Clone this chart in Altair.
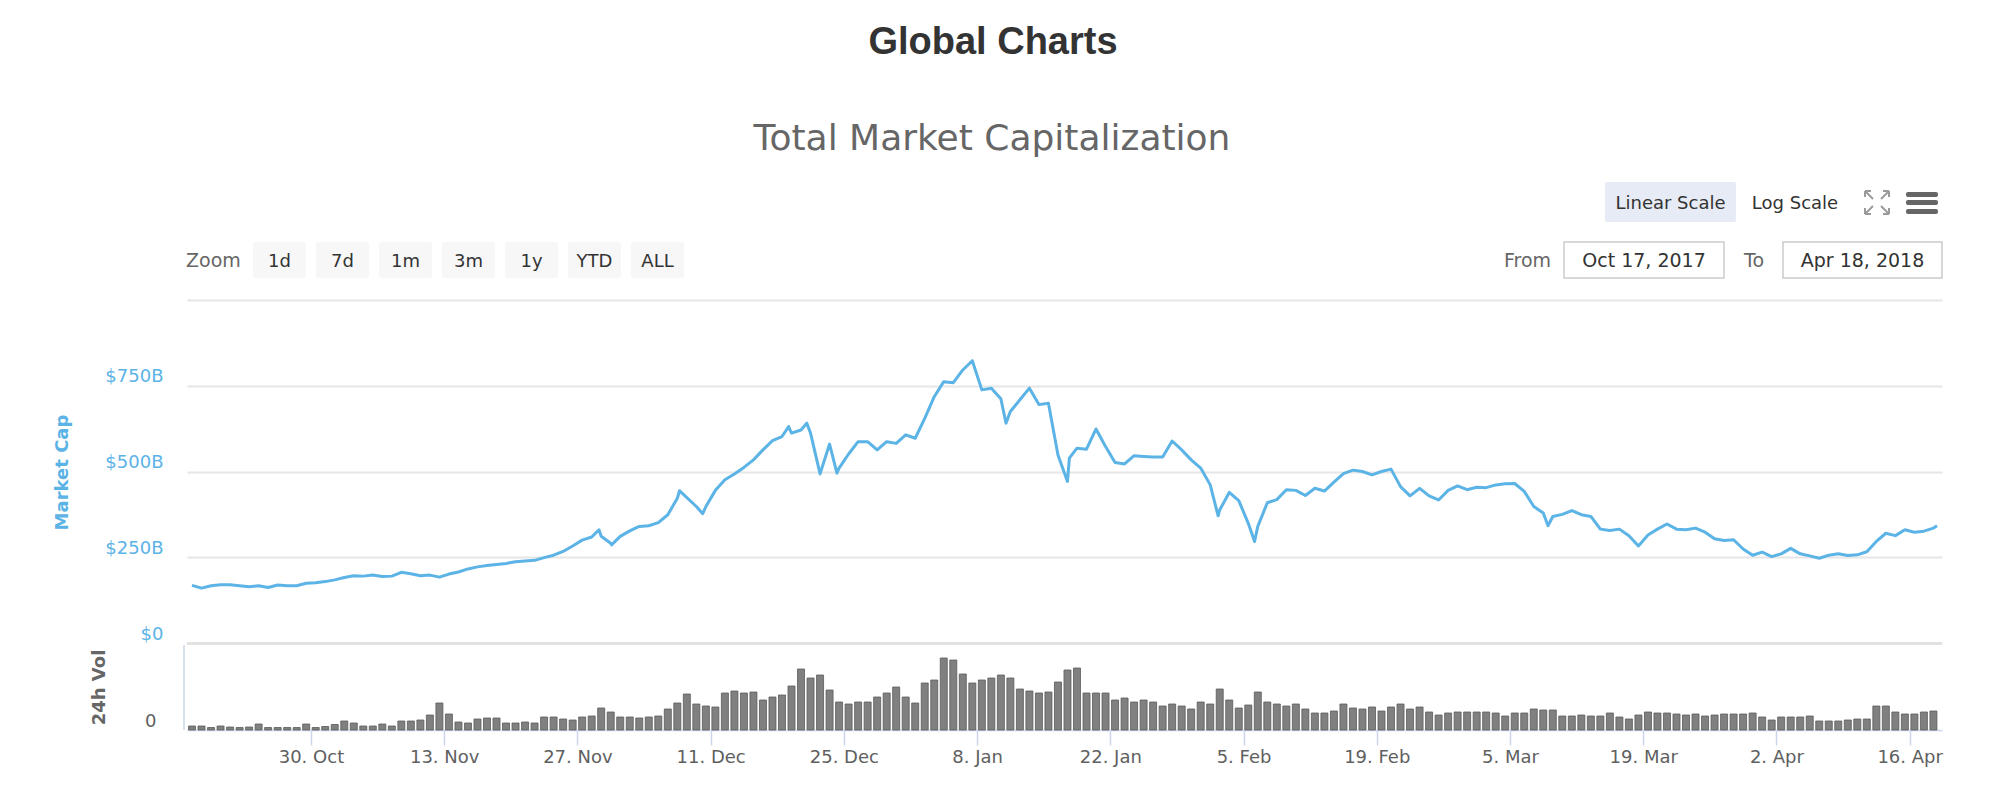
import altair as alt
import pandas as pd

# ---------------- data ----------------
TITLE = "Global Charts"
SUBTITLE = "Total Market Capitalization"
start_day = "2017-10-17"

# total market cap, $B, one reading per day at 12:00 UTC from 17 Oct 2017
market_cap_b = [168, 160, 167, 170, 170, 167, 164, 167, 162, 169,
                167, 167, 174, 176, 179, 184, 191, 196, 195, 198,
                194, 195, 206, 202, 196, 198, 192, 201, 207, 216,
                222, 226, 229, 232, 237, 239, 241, 249, 256, 267,
                283, 300, 309, 311, 291, 311, 327, 340, 342, 351,
                374, 422, 424, 398, 398, 445, 476, 493, 512, 534,
                563, 590, 602, 612, 621, 612, 493, 580, 510, 551,
                587, 587, 563, 587, 582, 607, 597, 655, 718, 762,
                759, 796, 823, 738, 743, 712, 675, 709, 743, 695,
                699, 548, 471, 568, 565, 624, 573, 526, 522, 546,
                544, 542, 542, 589, 563, 534, 510, 461, 388, 439,
                415, 349, 340, 409, 418, 447, 445, 430, 451, 443,
                469, 494, 504, 500, 490, 500, 507, 456, 429, 451,
                429, 417, 445, 458, 447, 454, 453, 461, 464, 465,
                442, 398, 379, 369, 375, 386, 374, 369, 332, 328,
                332, 313, 283, 315, 332, 347, 332, 330, 335, 323,
                304, 299, 301, 274, 256, 265, 252, 260, 276, 260,
                254, 247, 256, 260, 255, 257, 266, 296, 320, 313,
                330, 323, 326, 335]

# extra readings at sharp peaks / dips (days after 17 Oct 00:00 UTC)
extra_day_offsets = [43.27, 44.59, 51.73, 54.17, 63.2, 65.1, 68.27, 86.04,
                     92.7, 108.33, 112.16, 143.0, 183.875]
extra_caps_b = [330, 286, 444, 377, 631, 641, 495, 641,
                539, 371, 296, 342, 342]

# 24h volume, $B, one bar per day
volume_b = [4, 4, 2.5, 4, 3, 2.5, 3, 6, 2.5, 2.5,
            2.5, 2.5, 6, 2.5, 3.5, 5.5, 9, 7, 4, 4,
            6, 4, 9, 9, 10, 15, 27, 16, 8, 7,
            11, 12, 12, 7, 7, 8, 7, 13, 13, 11,
            10, 13, 14, 22, 18, 13, 13, 12, 13, 14,
            21, 27, 36, 26, 24, 23, 37, 39, 37, 38,
            30, 33, 35, 44, 61, 52, 55, 40, 28, 26,
            28, 28, 33, 37, 43, 33, 27, 47, 50, 72,
            70, 56, 47, 50, 52, 55, 52, 41, 39, 37,
            38, 48, 60, 62, 37, 37, 37, 30, 32, 28,
            30, 28, 24, 26, 24, 21, 28, 26, 41, 30,
            22, 25, 38, 28, 26, 24, 26, 21, 17, 17,
            19, 26, 22, 21, 23, 19, 23, 26, 21, 23,
            18, 15, 17, 18, 18, 18, 18, 17, 14, 17,
            17, 21, 20, 20, 14, 14, 15, 14, 14, 17,
            13, 11, 15, 18, 17, 17, 16, 15, 16, 14,
            15, 16, 16, 16, 17, 13, 10, 13, 13, 13,
            14, 9, 9, 9, 10, 11, 11, 24, 24, 18,
            16, 16, 18, 19]

tick_dates = [(2017, 10, 30), (2017, 11, 13), (2017, 11, 27), (2017, 12, 11),
              (2017, 12, 25), (2018, 1, 8), (2018, 1, 22), (2018, 2, 5),
              (2018, 2, 19), (2018, 3, 5), (2018, 3, 19), (2018, 4, 2),
              (2018, 4, 16)]
y_ticks = [0, 250, 500, 750, 1000]
zoom_labels = ["1d", "7d", "1m", "3m", "1y", "YTD", "ALL"]
scale_labels = ["Linear Scale", "Log Scale"]
from_label, to_label = "From", "To"
from_date, to_date = "Oct 17, 2017", "Apr 18, 2018"

# ---------------- tables ----------------
base = pd.Timestamp(start_day, tz="UTC")


def stamp(d):
    return (base + pd.Timedelta(days=d)).strftime("%Y-%m-%dT%H:%M:%SZ")


line_df = pd.DataFrame({
    "date": [stamp(0.5 + k) for k in range(len(market_cap_b))] + [stamp(d) for d in extra_day_offsets],
    "cap": market_cap_b + extra_caps_b,
}).sort_values("date")
vol_df = pd.DataFrame({
    "date": [stamp(0.5 + k) for k in range(len(volume_b))],
    "vol": volume_b,
})

# ---------------- styling ----------------
FONT = "DejaVu Sans"
BLUE = "#5bb3e6"
AXIS_LINE = "#ccd6eb"
GREY_TXT = "#606060"

xscale = alt.Scale(
    type="utc", nice=False,
    domain=[alt.DateTime(year=2017, month=10, date=17, hours=12, utc=True),
            alt.DateTime(year=2018, month=4, date=18, hours=21, utc=True)])

xaxis = alt.Axis(
    values=[alt.DateTime(year=y, month=m, date=d, utc=True) for (y, m, d) in tick_dates],
    format="%-d. %b", labelFont=FONT, labelFontSize=18, labelColor=GREY_TXT,
    labelPadding=3, labelFlush=False, labelOverlap=False,
    tickSize=15, tickColor=AXIS_LINE, tickWidth=1.5,
    domainColor=AXIS_LINE, domainWidth=1.5, grid=False, title=None)

yaxis = alt.Axis(
    values=y_ticks, orient="left",
    labelExpr="datum.value >= 1000 ? '' : (datum.value == 0 ? '$0' : '$' + datum.value + 'B')",
    grid=True, gridColor="#e6e6e6", gridWidth=2, domain=False, ticks=False, tickSize=0,
    labelPadding=24, labelFont=FONT, labelFontSize=18, labelColor=BLUE,
    labelBaseline="bottom", labelFlush=False,
    title="Market Cap", titleFont=FONT, titleFontSize=18, titleFontWeight="bold",
    titleColor=BLUE, titleAngle=270, titleX=-125, titleY=172,
    titleAlign="center", titleBaseline="middle")

vaxis = alt.Axis(
    values=[0], orient="left", grid=False, domain=False, ticks=False, tickSize=0,
    labelPadding=31, labelFont=FONT, labelFontSize=18, labelColor=GREY_TXT,
    labelBaseline="bottom", labelFlush=False,
    title="24h Vol", titleFont=FONT, titleFontSize=18, titleFontWeight="bold",
    titleColor="#666666", titleAngle=270, titleX=-88, titleY=387,
    titleAlign="center", titleBaseline="middle")

W, H = 1755, 430

bars = alt.Chart(vol_df).mark_bar(width=7, fill="#808080", stroke="#5a5a5a", strokeWidth=0.8).encode(
    x=alt.X("date:T", scale=xscale, axis=xaxis),
    y=alt.Y("vol:Q", scale=alt.Scale(domain=[0, H], nice=False, zero=True), axis=vaxis),
)

line = alt.Chart(line_df).mark_line(color=BLUE, strokeWidth=3, strokeJoin="round").encode(
    x=alt.X("date:T", scale=xscale, axis=xaxis),
    y=alt.Y("cap:Q", scale=alt.Scale(domain=[-253.6, 1000], nice=False, zero=False), axis=yaxis),
)

zero_rule = alt.Chart(pd.DataFrame({"a": [0]})).mark_rule(color="#e2e2e2", strokeWidth=3).encode(
    x=alt.value(0), x2=alt.value(W), y=alt.value(343.5))
vol_left = alt.Chart(pd.DataFrame({"a": [0]})).mark_rule(color=AXIS_LINE, strokeWidth=1.5).encode(
    x=alt.value(-3), y=alt.value(345), y2=alt.value(H))


def label(text, x, y, size=18, color="#333333", align="center", weight="normal", font=FONT):
    return alt.Chart(pd.DataFrame({"t": [text]})).mark_text(
        font=font, fontSize=size, color=color, align=align, baseline="alphabetic",
        fontWeight=weight).encode(text="t:N", x=alt.value(x), y=alt.value(y))


def box(x0, x1, y0, y1, fill, stroke=None, radius=2):
    kw = dict(fill=fill, cornerRadius=radius)
    if stroke:
        kw.update(stroke=stroke, strokeWidth=1.5)
    return alt.Chart(pd.DataFrame({"a": [0]})).mark_rect(**kw).encode(
        x=alt.value(x0), x2=alt.value(x1), y=alt.value(y0), y2=alt.value(y1))


# zoom buttons
btn_df = pd.DataFrame({"label": zoom_labels})
btn_df["x0"] = [66 + 63 * i for i in range(len(zoom_labels))]
btn_df["x1"] = btn_df["x0"] + 53
btn_df["xc"] = btn_df["x0"] + 26.5
btn_rects = alt.Chart(btn_df).mark_rect(fill="#f7f7f7", cornerRadius=2).encode(
    x=alt.X("x0:Q", scale=None), x2="x1:Q", y=alt.value(-58), y2=alt.value(-22))
btn_text = alt.Chart(btn_df).mark_text(font=FONT, fontSize=18, color="#333333", baseline="alphabetic").encode(
    x=alt.X("xc:Q", scale=None), y=alt.value(-33), text="label:N")

# fullscreen icon segments
icon_df = pd.DataFrame({
    "x": [1678, 1702, 1678, 1702, 1678, 1678, 1702, 1702, 1678, 1678, 1702, 1702],
    "y": [-109, -109, -86, -86, -109, -109, -109, -109, -86, -86, -86, -86],
    "x2": [1686, 1694, 1686, 1694, 1684, 1678, 1696, 1702, 1684, 1678, 1696, 1702],
    "y2": [-101, -101, -94, -94, -109, -103, -109, -103, -86, -92, -86, -92],
})
icon = alt.Chart(icon_df).mark_rule(color="#9a9a9a", strokeWidth=2).encode(
    x=alt.X("x:Q", scale=None), y=alt.Y("y:Q", scale=None), x2="x2:Q", y2="y2:Q")

hamburger = [box(1719, 1751, y0, y0 + 5, "#666666", radius=2) for y0 in (-108, -100, -91)]

header = [
    label(TITLE, 806, -246, size=38, color="#333333", weight="bold", font="Liberation Sans"),
    label(SUBTITLE, 805, -150, size=36, color="#666666"),
    box(1418, 1549, -118, -78, "#e6ebf5"),
    label(scale_labels[0], 1483.5, -91, size=18, color="#333333"),
    label(scale_labels[1], 1608, -91, size=18, color="#333333"),
    icon, *hamburger,
    label("Zoom", -1, -33, size=19, color="#666666", align="left"),
    btn_rects, btn_text,
    label(from_label, 1317, -33, size=19, color="#666666", align="left"),
    box(1377, 1537, -58, -22, "#ffffff", stroke="#cccccc", radius=0),
    label(from_date, 1457, -33, size=19, color="#333333"),
    label(to_label, 1557, -33, size=19, color="#666666", align="left"),
    box(1596, 1755, -58, -22, "#ffffff", stroke="#cccccc", radius=0),
    label(to_date, 1675.5, -33, size=19, color="#333333"),
]

chart = alt.layer(
    zero_rule, vol_left, bars, line, *header
).resolve_scale(y="independent").properties(
    width=W, height=H,
    autosize=alt.AutoSizeParams(type="none"),
    padding={"left": 179, "top": 292, "right": 66, "bottom": 62},
).configure_view(stroke=None)

chart.save("out.html", embed_options={"renderer": "svg", "actions": False})
